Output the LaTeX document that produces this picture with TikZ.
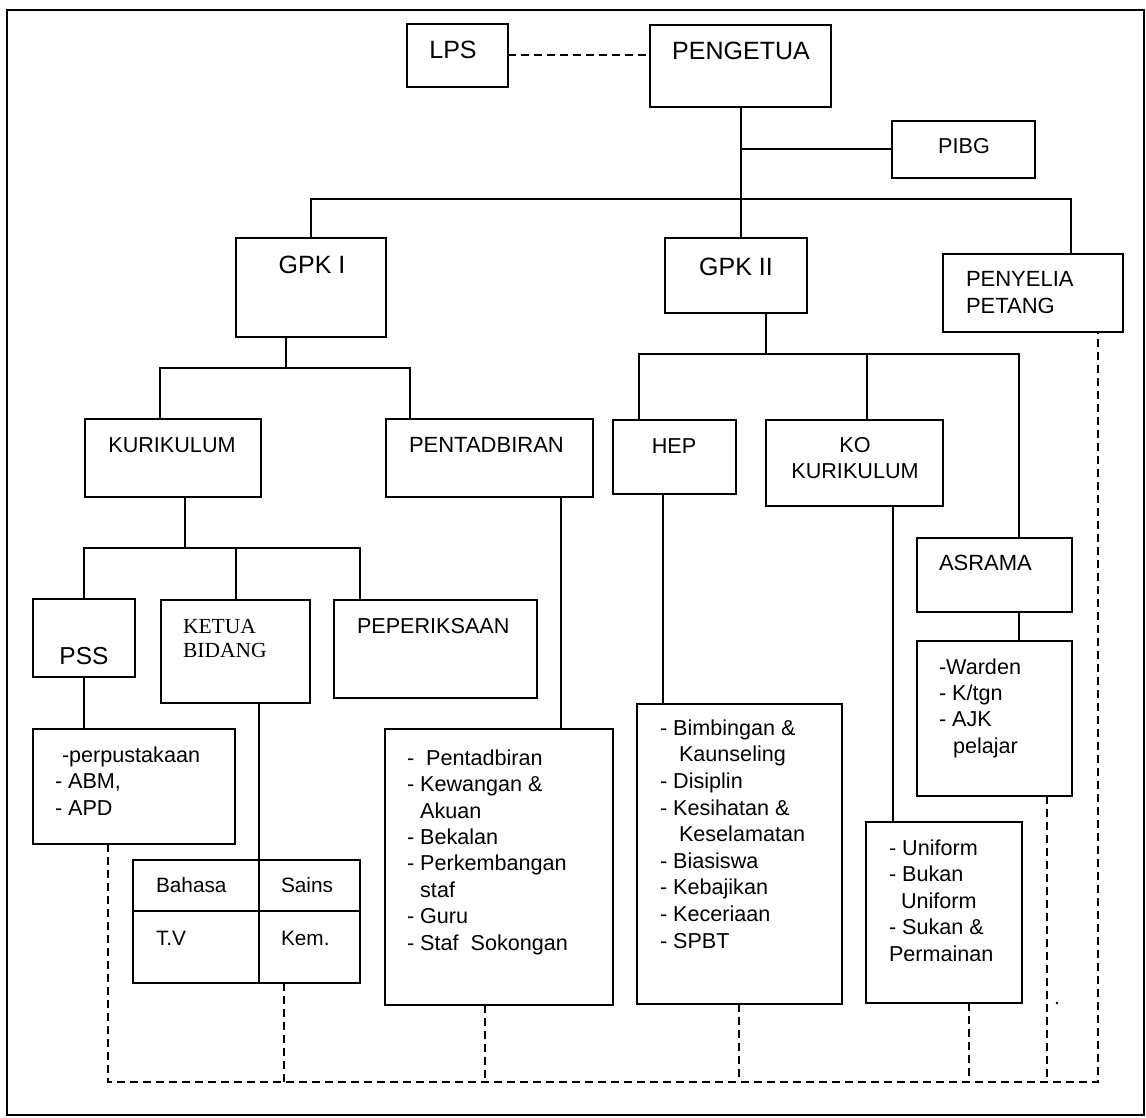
\documentclass[tikz,border=0pt]{standalone}
\usepackage{fontspec}
\setmainfont{Liberation Sans}
\newfontfamily\tnr{Liberation Serif}
\newcommand\mybox[5]{\node[box, minimum width={#4pt-#2pt}, minimum height={#5pt-#3pt}] (#1) at ({(#2+#4)/2},{(#3+#5)/2}) {};}
\begin{document}
\begin{tikzpicture}[x=1pt,y=-1pt,
  box/.style={draw, line width=2pt, inner sep=0pt, outer sep=0pt},
  conn/.style={line width=2pt},
  dsh/.style={line width=2pt, dash pattern=on 8pt off 5pt},
  lbl/.style={inner sep=0pt, outer sep=0pt, anchor=base, font=\fontsize{21.6}{26.5}\selectfont},
  big/.style={font=\fontsize{25}{30}\selectfont},
  lblw/.style={lbl, anchor=base west},
  lst/.style={lbl, align=left, anchor=base west},
]
\useasboundingbox (0,0) rectangle (1146,1118);
\draw[line width=2pt] (7,10) rectangle (1144,1115);

% boxes
\mybox{lps}{407}{24}{508}{87}
\mybox{peng}{650}{25}{831}{107}
\mybox{pibg}{892}{121}{1035}{178}
\mybox{gpk1}{236}{238}{386}{337}
\mybox{gpk2}{665}{238}{807}{313}
\mybox{peny}{943}{254}{1123}{332}
\mybox{kur}{85}{419}{261}{497}
\mybox{pent}{386}{419}{593}{497}
\mybox{hep}{613}{420}{736}{494}
\mybox{ko}{766}{420}{943}{506}
\mybox{asr}{917}{538}{1072}{612}
\mybox{pss}{33}{599}{135}{677}
\mybox{ketua}{161}{600}{310}{703}
\mybox{peper}{334}{600}{537}{698}
\mybox{psslist}{33}{729}{235}{844}
\mybox{table}{133}{860}{360}{983}
\mybox{pentlist}{385}{729}{613}{1005}
\mybox{heplist}{637}{704}{842}{1004}
\mybox{kolist}{866}{822}{1022}{1003}
\mybox{asrlist}{917}{641}{1072}{796}

% table inner lines
\coordinate (tabmid) at (259,911);
\draw[conn] (tabmid |- table.north) -- (tabmid |- table.south);
\draw[conn] (table.west |- tabmid) -- (table.east |- tabmid);

% labels
\node[lbl, big] (t-lps) at (453,59) {LPS};
\node[lbl, big] (t-peng) at (741,60) {PENGETUA};
\node[lbl] (t-pibg) at (964,154) {PIBG};
\node[lbl, big] (t-gpk1) at (312,273) {GPK I};
\node[lbl, big] (t-gpk2) at (736,275) {GPK II};
\node[lblw, font=\fontsize{22}{26}\selectfont] (t-peny1) at (966,286) {PENYELIA};
\node[lblw, font=\fontsize{22}{26}\selectfont] (t-peny2) at (966,313) {PETANG};
\node[lbl] (t-kur) at (172,452) {KURIKULUM};
\node[lblw, font=\fontsize{22}{26}\selectfont] (t-pent) at (409,452) {PENTADBIRAN};
\node[lbl] (t-hep) at (674,453) {HEP};
\node[lbl] (t-ko1) at (855,452) {KO};
\node[lbl] (t-ko2) at (855,478) {KURIKULUM};
\node[lblw, font=\fontsize{22}{26}\selectfont] (t-asr) at (939,570) {ASRAMA};
\node[lbl, font=\fontsize{24.5}{29}\selectfont] (t-pss) at (84,664) {PSS};
\node[lblw, font=\tnr\fontsize{21.5}{24}\selectfont] (t-ket1) at (183,633) {KETUA};
\node[lblw, font=\tnr\fontsize{21.5}{24}\selectfont] (t-ket2) at (183,657) {BIDANG};
\node[lblw] (t-peper) at (357,633) {PEPERIKSAAN};
\node[lblw, font=\fontsize{20.8}{25}\selectfont] (t-bahasa) at (156,892) {Bahasa};
\node[lblw, font=\fontsize{20.8}{25}\selectfont] (t-sains) at (281,892) {Sains};
\node[lblw, font=\fontsize{20.8}{25}\selectfont] (t-tv) at (156,945) {T.V};
\node[lblw, font=\fontsize{20.8}{25}\selectfont] (t-kem) at (281,945) {Kem.};

% lists (anchor = baseline of the last line)
\node[lst] (l-pss) at (55,815) {\hspace*{7pt}-perpustakaan\\- ABM,\\- APD};
\node[lst, font=\fontsize{21.6}{26.4}\selectfont] (l-pent) at (407,950) {-\ \ Pentadbiran\\- Kewangan \&\\\phantom{- }Akuan\\- Bekalan\\- Perkembangan\\\phantom{- }staf\\- Guru\\- Staf\ \ Sokongan};
\node[lst, font=\fontsize{21.6}{26.6}\selectfont] (l-hep) at (660,948) {- Bimbingan \&\\\hspace*{19pt}Kaunseling\\- Disiplin\\- Kesihatan \&\\\hspace*{19pt}Keselamatan\\- Biasiswa\\- Kebajikan\\- Keceriaan\\- SPBT};
\node[lst] (l-ko) at (889,961) {- Uniform\\- Bukan\\\hspace*{12pt}Uniform\\- Sukan \&\\Permainan};
\node[lst, font=\fontsize{21.6}{26.3}\selectfont] (l-asr) at (939,753) {-Warden\\- K/tgn\\- AJK\\\hspace*{14pt}pelajar};

% solid connectors
\draw[conn] (peng.south) -- (peng.south |- gpk2.north);
\draw[conn] (pibg.west) -- (pibg.west -| peng.south);
\coordinate (b1l) at (311,199); \coordinate (b1r) at (1071,199);
\draw[conn] (b1l |- gpk1.north) -- (b1l) -- (b1r) -- (b1r |- peny.north);
\coordinate (b2c) at (286,368); \coordinate (b2l) at (160,368); \coordinate (b2r) at (410,368);
\draw[conn] (b2c |- gpk1.south) -- (b2c);
\draw[conn] (b2l |- kur.north) -- (b2l) -- (b2r) -- (b2r |- pent.north);
\coordinate (b3c) at (766,354); \coordinate (b3l) at (639,354);
\coordinate (b3m) at (867,354); \coordinate (b3r) at (1019,354);
\draw[conn] (b3c |- gpk2.south) -- (b3c);
\draw[conn] (b3l |- hep.north) -- (b3l) -- (b3r) -- (b3r |- asr.north);
\draw[conn] (b3m) -- (b3m |- ko.north);
\coordinate (b4c) at (185,548); \coordinate (b4l) at (84,548);
\coordinate (b4m) at (236,548); \coordinate (b4r) at (360,548);
\draw[conn] (b4c |- kur.south) -- (b4c);
\draw[conn] (b4l |- pss.north) -- (b4l) -- (b4r) -- (b4r |- peper.north);
\draw[conn] (b4m) -- (b4m |- ketua.north);
\coordinate (v1) at (84,700); \draw[conn] (v1 |- pss.south) -- (v1 |- psslist.north);
\draw[conn] (tabmid |- ketua.south) -- (tabmid |- table.north);
\coordinate (v3) at (561,600); \draw[conn] (v3 |- pent.south) -- (v3 |- pentlist.north);
\coordinate (v4) at (663,600); \draw[conn] (v4 |- hep.south) -- (v4 |- heplist.north);
\coordinate (v5) at (893,600); \draw[conn] (v5 |- ko.south) -- (v5 |- kolist.north);
\draw[conn] (b3r |- asr.south) -- (b3r |- asrlist.north);

% dashed connectors
\draw[dsh] (lps.east) -- (lps.east -| peng.west);
\coordinate (d1) at (108,1082); \coordinate (d2) at (284,1082);
\coordinate (d3) at (485,1082); \coordinate (d4) at (739,1082);
\coordinate (d5) at (969,1082); \coordinate (d6) at (1047,1082);
\coordinate (d7) at (1098,1082);
\draw[dsh] (d1 |- psslist.south) -- (d1) -- (d7) -- (d7 |- peny.south);
\draw[dsh] (d2 |- table.south) -- (d2);
\draw[dsh] (d3 |- pentlist.south) -- (d3);
\draw[dsh] (d4 |- heplist.south) -- (d4);
\draw[dsh] (d5 |- kolist.south) -- (d5);
\draw[dsh] (d6 |- asrlist.south) -- (d6);
\fill (1057,1003) circle (1.3pt);
\end{tikzpicture}
\end{document}
